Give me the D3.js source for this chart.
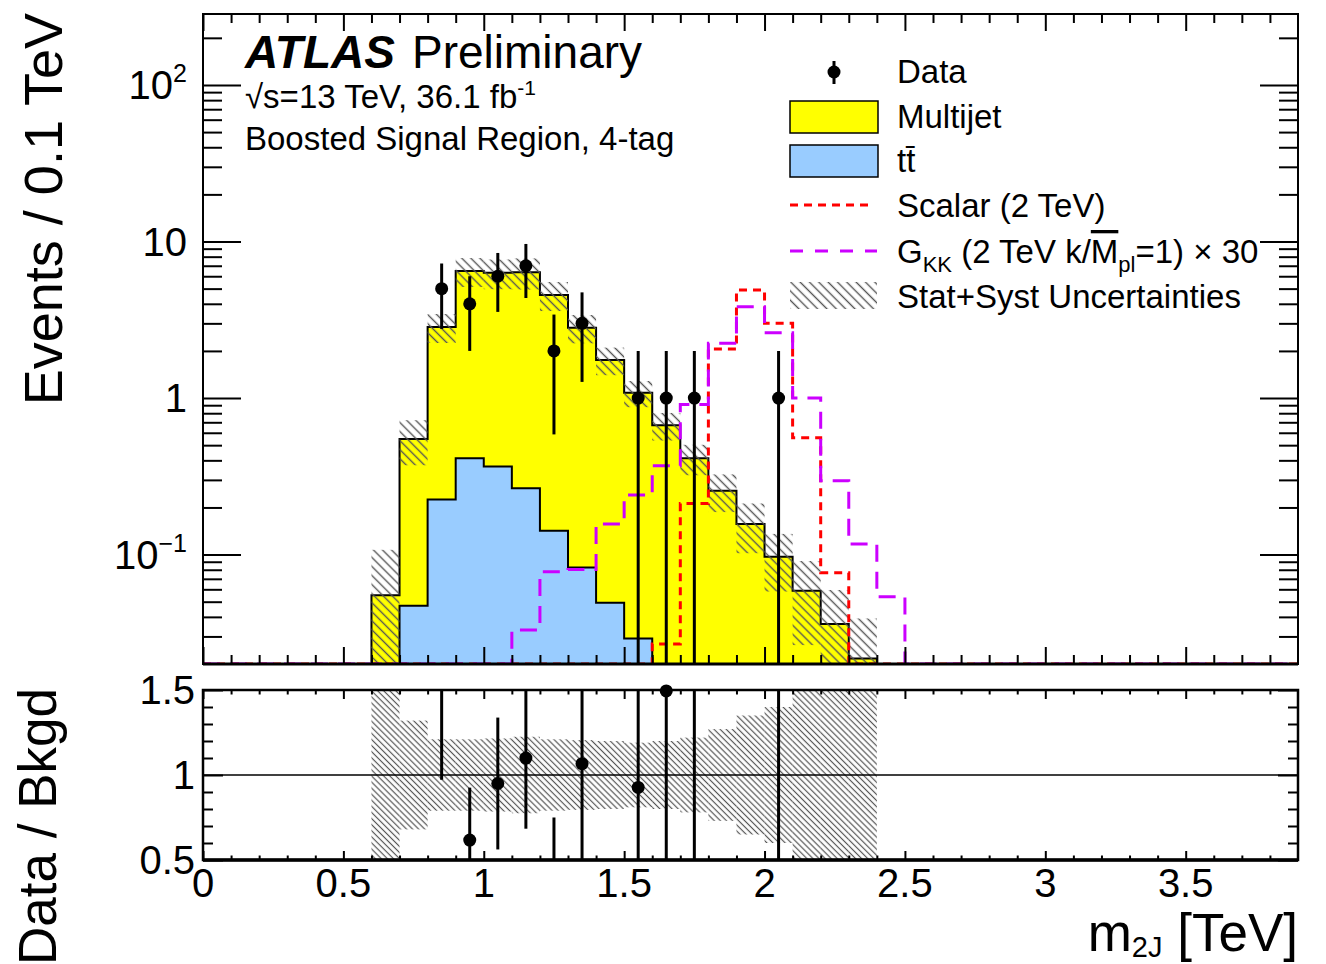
<!DOCTYPE html>
<html><head><meta charset="utf-8">
<script src="https://cdn.jsdelivr.net/npm/d3@7"></script>
<style>
body{margin:0;background:#fff}
svg{display:block;font-family:"Liberation Sans",Arial,Helvetica,sans-serif}
</style>
</head><body>
<svg id="c" width="1326" height="964"></svg>
<script>
// ---------------- data ----------------
const binLow     = [0.6,0.7,0.8,0.9,1.0,1.1,1.2,1.3,1.4,1.5,1.6,1.7,1.8,1.9,2.0,2.1,2.2,2.3,2.4];
const binWidth   = 0.1;
const multijet   = [0.055,0.50,2.62,6.07,5.95,6.10,4.41,2.73,1.70,1.05,0.669,0.412,0.256,0.157,0.0968,0.0587,0.036,0.0217,0];
const ttbar      = [0,0.0471,0.225,0.412,0.366,0.265,0.142,0.0828,0.0492,0.0291,0,0,0,0,0,0,0,0,0];
const scalar2TeV = [0,0,0,0,0,0,0,0,0,0,0.0268,0.212,2.06,4.90,3.00,0.557,0.0765,0,0];
const gkk2TeVx30 = [0,0,0,0,0,0.033,0.0776,0.0804,0.157,0.240,0.369,0.911,2.24,3.83,2.61,1.00,0.296,0.117,0.0537];
const dataCounts = [0,0,5,4,6,7,2,3,0,1,1,1,0,0,1,0,0,0,0];
const bkgRelUnc  = [0.95,0.32,0.21,0.21,0.215,0.225,0.21,0.205,0.2,0.19,0.2,0.22,0.27,0.35,0.4,0.55,0.65,0.8,0];
const xTickLabels = [0,0.5,1,1.5,2,2.5,3,3.5];
const yMainTickLabels = [0.1,1,10,100];
const yRatioTickLabels = [0.5,1,1.5];

// ---------------- layout ----------------
const svg = d3.select("#c");
const L = 203, R = 1298, T1 = 14, B1 = 664, T2 = 690, B2 = 860;
const YMIN = 0.02, YMAX = 284;
const x  = d3.scaleLinear().domain([0, 3.9]).range([L, R]);
const y  = d3.scaleLog().domain([YMIN, YMAX]).range([B1, T1]);
const yr = d3.scaleLinear().domain([0.5, 1.5]).range([B2, T2]);
const yc = v => y(Math.max(v, YMIN));

svg.append("rect").attr("width",1326).attr("height",964).attr("fill","#fff");

const defs = svg.append("defs");
function hatch(id, s, w){
  const p = defs.append("pattern").attr("id", id).attr("patternUnits","userSpaceOnUse")
    .attr("width", s).attr("height", s).attr("patternTransform","rotate(-45)");
  p.append("line").attr("x1", s/2).attr("x2", s/2).attr("y1", 0).attr("y2", s)
    .attr("stroke","#555").attr("stroke-width", w);
}
hatch("hMain", 6.4, 1.4);
hatch("hRatio", 4.3, 1.2);
hatch("hLeg", 6.6, 1.4);
defs.append("clipPath").attr("id","clipTop").append("rect").attr("x",L).attr("y",T1).attr("width",R-L).attr("height",B1-T1);
defs.append("clipPath").attr("id","clipRat").append("rect").attr("x",L).attr("y",T2).attr("width",R-L).attr("height",B2-T2);

const bins = binLow.map((lo,i) => ({lo, hi: lo + binWidth, mj: multijet[i], tt: ttbar[i],
  tot: multijet[i] + ttbar[i], sc: scalar2TeV[i], gk: gkk2TeVx30[i], n: dataCounts[i], r: bkgRelUnc[i]}));
const lastHi = binLow[binLow.length-1] + binWidth;

// ---------------- top panel ----------------
const gTop = svg.append("g").attr("clip-path","url(#clipTop)");
const stepArea = d3.area().curve(d3.curveStepAfter).x(d => x(d[0])).y0(B1).y1(d => yc(d[1]));
const stepLine = d3.line().curve(d3.curveStepAfter).x(d => x(d[0])).y(d => yc(d[1]));

const totPts = bins.map(b => [b.lo, b.tot]); totPts.push([lastHi, 0]);
gTop.append("path").attr("d", stepArea(totPts)).attr("fill","#ffff00").attr("stroke","#000").attr("stroke-width",2);
const ttPts = bins.map(b => [b.lo, b.tt]); ttPts.push([lastHi, 0]);
gTop.append("path").attr("d", stepArea(ttPts)).attr("fill","#99ccff").attr("stroke","#000").attr("stroke-width",2);

// uncertainty band
gTop.selectAll("rect.unc").data(bins.filter(b => b.tot > 0)).join("rect").attr("class","unc")
  .attr("x", b => x(b.lo)).attr("width", b => x(b.hi) - x(b.lo))
  .attr("y", b => yc(b.tot*(1+b.r)))
  .attr("height", b => yc(b.tot*(1-b.r)) - yc(b.tot*(1+b.r)))
  .attr("fill","url(#hMain)");

// signals
function sigPts(key){ const p = [[0,0]]; bins.forEach(b => p.push([b.lo, b[key]])); p.push([lastHi,0]); p.push([3.9,0]); return p; }
gTop.append("path").attr("d", stepLine(sigPts("sc"))).attr("fill","none").attr("stroke","#ff0000")
  .attr("stroke-width",3).attr("stroke-dasharray","8,6");
gTop.append("path").attr("d", stepLine(sigPts("gk"))).attr("fill","none").attr("stroke","#cc00ff")
  .attr("stroke-width",3).attr("stroke-dasharray","17,10");

// data
const dat = bins.filter(b => b.n > 0);
gTop.selectAll("line.err").data(dat).join("line").attr("class","err")
  .attr("x1", b => x(b.lo + binWidth/2)).attr("x2", b => x(b.lo + binWidth/2))
  .attr("y1", b => yc(b.n + Math.sqrt(b.n))).attr("y2", b => b.n - Math.sqrt(b.n) > 0 ? yc(b.n - Math.sqrt(b.n)) : B1 + 5)
  .attr("stroke","#000").attr("stroke-width",3);
gTop.selectAll("circle.dat").data(dat).join("circle").attr("class","dat")
  .attr("cx", b => x(b.lo + binWidth/2)).attr("cy", b => y(b.n)).attr("r",6.5).attr("fill","#000");

// ---------------- ratio panel ----------------
const gRat = svg.append("g").attr("clip-path","url(#clipRat)");
gRat.selectAll("rect.unc").data(bins.filter(b => b.tot > 0)).join("rect")
  .attr("x", b => x(b.lo)).attr("width", b => x(b.hi) - x(b.lo))
  .attr("y", b => yr(1 + b.r)).attr("height", b => yr(1 - b.r) - yr(1 + b.r))
  .attr("fill","url(#hRatio)");
gRat.append("line").attr("x1",L).attr("x2",R).attr("y1",yr(1)).attr("y2",yr(1)).attr("stroke","#000").attr("stroke-width",1.5);
gRat.selectAll("line.err").data(dat).join("line")
  .attr("x1", b => x(b.lo + binWidth/2)).attr("x2", b => x(b.lo + binWidth/2))
  .attr("y1", b => yr((b.n + Math.sqrt(b.n))/b.tot)).attr("y2", b => yr((b.n - Math.sqrt(b.n))/b.tot))
  .attr("stroke","#000").attr("stroke-width",3);
svg.append("g").selectAll("circle").data(dat.filter(b => b.n/b.tot >= 0.5 && b.n/b.tot <= 1.505)).join("circle")
  .attr("cx", b => x(b.lo + binWidth/2)).attr("cy", b => yr(b.n/b.tot)).attr("r",6.5).attr("fill","#000");

// ---------------- axes / ticks ----------------
const minorX = d3.range(0, 39).map(i => i/10).filter(v => Math.round(v*10) % 5 !== 0);
const majorX = xTickLabels;
function ticks(axisGen, tr, vals, size){
  const g = svg.append("g").attr("transform", tr).call(axisGen.tickValues(vals).tickSize(size).tickFormat(""));
  g.select(".domain").remove();
  g.selectAll("line").attr("stroke","#000").attr("stroke-width",2);
}
// top panel x ticks
ticks(d3.axisTop(x), `translate(0,${B1})`, majorX, 17);
ticks(d3.axisTop(x), `translate(0,${B1})`, minorX, 9);
ticks(d3.axisBottom(x), `translate(0,${T1})`, majorX, 17);
ticks(d3.axisBottom(x), `translate(0,${T1})`, minorX, 9);
// log y ticks
const logMajor = [0.1,1,10,100];
const logMinor = [];
[-2,-1,0,1,2].forEach(d => { for (let k=2;k<=9;k++){ const v = k*Math.pow(10,d); if (v>YMIN*1.001 && v<YMAX) logMinor.push(v);} });
ticks(d3.axisRight(y), `translate(${L},0)`, logMajor, 38);
ticks(d3.axisRight(y), `translate(${L},0)`, logMinor, 19);
ticks(d3.axisLeft(y), `translate(${R},0)`, logMajor, 38);
ticks(d3.axisLeft(y), `translate(${R},0)`, logMinor, 19);
// ratio ticks
ticks(d3.axisTop(x), `translate(0,${B2})`, majorX, 9);
ticks(d3.axisTop(x), `translate(0,${B2})`, minorX, 4.5);
ticks(d3.axisBottom(x), `translate(0,${T2})`, majorX, 9);
ticks(d3.axisBottom(x), `translate(0,${T2})`, minorX, 4.5);
const rMinor = [0.6,0.7,0.8,0.9,1.1,1.2,1.3,1.4];
ticks(d3.axisRight(yr), `translate(${L},0)`, yRatioTickLabels, 20);
ticks(d3.axisRight(yr), `translate(${L},0)`, rMinor, 10);
ticks(d3.axisLeft(yr), `translate(${R},0)`, yRatioTickLabels, 20);
ticks(d3.axisLeft(yr), `translate(${R},0)`, rMinor, 10);

// frames
svg.append("rect").attr("x",L).attr("y",T1).attr("width",R-L).attr("height",B1-T1).attr("fill","none").attr("stroke","#000").attr("stroke-width",2);
svg.append("line").attr("x1",L).attr("x2",R).attr("y1",B1).attr("y2",B1).attr("stroke","#000").attr("stroke-width",3);
svg.append("rect").attr("x",L).attr("y",T2).attr("width",R-L).attr("height",B2-T2).attr("fill","none").attr("stroke","#000").attr("stroke-width",2.5);
svg.append("line").attr("x1",L).attr("x2",R).attr("y1",B2).attr("y2",B2).attr("stroke","#000").attr("stroke-width",3.5);

// tick labels
const FS = 40;
yMainTickLabels.forEach(v => {
  const t = svg.append("text").attr("x", 187).attr("y", y(v) + 14).attr("text-anchor","end").attr("font-size", FS);
  const e = Math.round(Math.log10(v));
  if (v === 1) t.text("1");
  else if (v === 10) t.text("10");
  else {
    t.append("tspan").text("10");
    t.append("tspan").attr("font-size", 25).attr("dy", -17).text(e < 0 ? "\u2212" + (-e) : String(e));
  }
});
yRatioTickLabels.forEach(v => {
  svg.append("text").attr("x", 195).attr("y", yr(v) + 14).attr("text-anchor","end").attr("font-size", FS)
    .text(d3.format("~g")(v));
});
xTickLabels.forEach(v => {
  svg.append("text").attr("x", x(v)).attr("y", 897).attr("text-anchor","middle").attr("font-size", FS)
    .text(d3.format("~g")(v));
});

// axis titles
svg.append("text").attr("transform","translate(62,13) rotate(-90)").attr("text-anchor","end").attr("font-size",54)
  .text("Events / 0.1 TeV");
svg.append("text").attr("transform","translate(56,688) rotate(-90)").attr("text-anchor","end").attr("font-size",53)
  .text("Data / Bkgd");
const xt = svg.append("text").attr("x", R).attr("y", 951).attr("text-anchor","end").attr("font-size",53);
xt.append("tspan").text("m");
xt.append("tspan").attr("font-size",29).attr("dy",6).text("2J");
xt.append("tspan").attr("dy",-6).text(" [TeV]");

// ATLAS label
svg.append("text").attr("x",245).attr("y",68).attr("font-size",46).attr("font-weight","bold").attr("font-style","italic").text("ATLAS");
svg.append("text").attr("x",412).attr("y",68).attr("font-size",46).text("Preliminary");
const lum = svg.append("text").attr("x",245).attr("y",108).attr("font-size",33);
lum.append("tspan").text("\u221As=13 TeV, 36.1 fb");
lum.append("tspan").attr("font-size",21).attr("dy",-13).text("-1");
svg.append("text").attr("x",245).attr("y",150).attr("font-size",33).text("Boosted Signal Region, 4-tag");

// ---------------- legend ----------------
const LX = 897, LFS = 33;
const rows = [71, 116, 160, 205, 251, 296];
function ltext(i){ return svg.append("text").attr("x", LX).attr("y", rows[i] + 12).attr("font-size", LFS); }
svg.append("line").attr("x1",834).attr("x2",834).attr("y1",rows[0]-10).attr("y2",rows[0]+13).attr("stroke","#000").attr("stroke-width",3);
svg.append("circle").attr("cx",834).attr("cy",rows[0]+1).attr("r",6.5).attr("fill","#000");
ltext(0).text("Data");
svg.append("rect").attr("x",790).attr("y",rows[1]-15).attr("width",88).attr("height",32).attr("fill","#ffff00").attr("stroke","#000").attr("stroke-width",1.5);
ltext(1).text("Multijet");
svg.append("rect").attr("x",790).attr("y",rows[2]-15).attr("width",88).attr("height",32).attr("fill","#99ccff").attr("stroke","#000").attr("stroke-width",1.5);
ltext(2).text("tt\u0304");
svg.append("line").attr("x1",790).attr("x2",872).attr("y1",rows[3]).attr("y2",rows[3]).attr("stroke","#ff0000").attr("stroke-width",3).attr("stroke-dasharray","8,6");
ltext(3).text("Scalar (2 TeV)");
svg.append("line").attr("x1",790).attr("x2",877).attr("y1",rows[4]).attr("y2",rows[4]).attr("stroke","#cc00ff").attr("stroke-width",3).attr("stroke-dasharray","13,12");
const g4 = ltext(4);
g4.append("tspan").text("G");
g4.append("tspan").attr("font-size",22).attr("dy",9).text("KK");
g4.append("tspan").attr("dy",-9).text(" (2 TeV k/");
g4.append("tspan").attr("style","text-decoration:overline").text("M");
g4.append("tspan").attr("font-size",22).attr("dy",9).text("pl");
g4.append("tspan").attr("dy",-9).text("=1) \u00D7 30");
svg.append("rect").attr("x",790).attr("y",rows[5]-14).attr("width",87).attr("height",27).attr("fill","url(#hLeg)");
ltext(5).text("Stat+Syst Uncertainties");
</script>
</body></html>
